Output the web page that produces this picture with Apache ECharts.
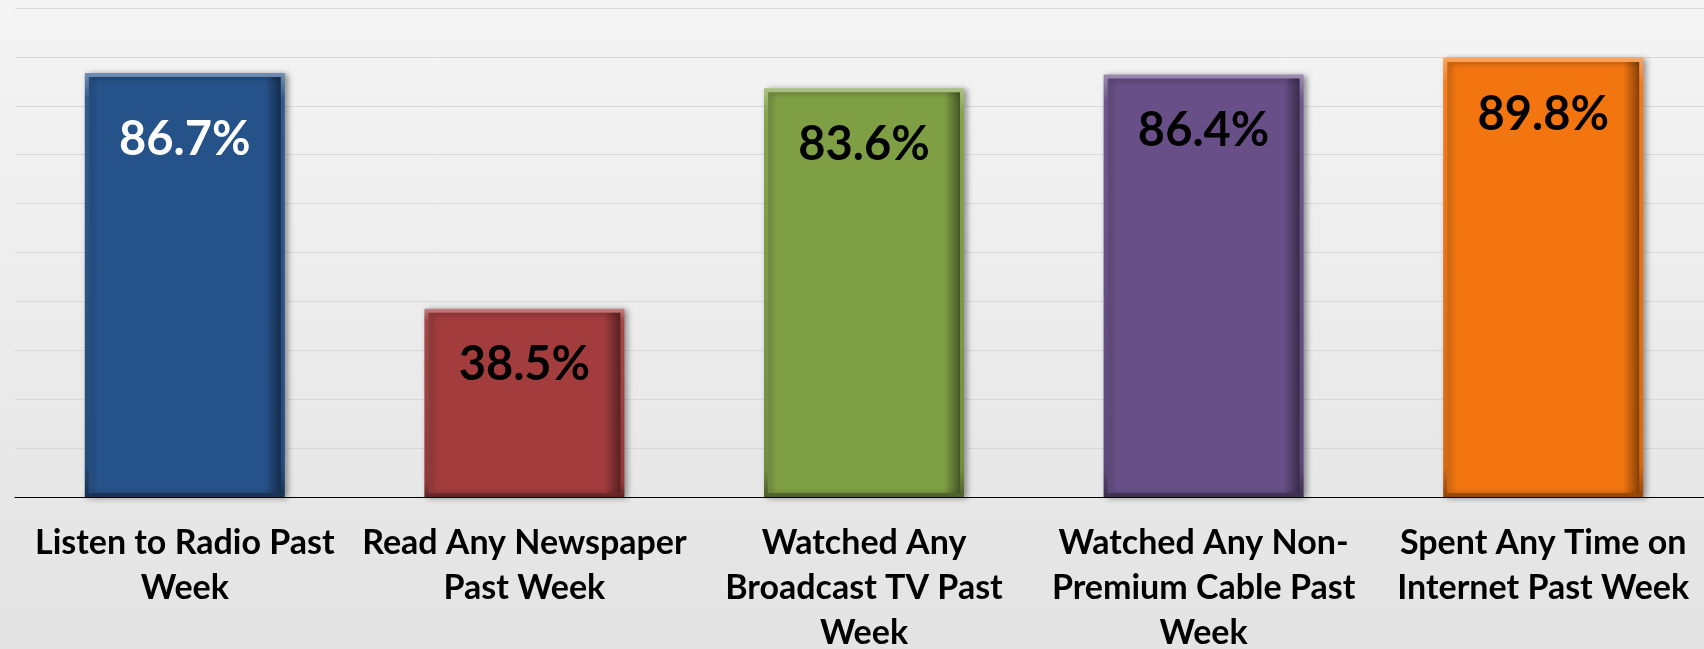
<!DOCTYPE html>
<html>
<head>
<meta charset="UTF-8">
<title>index.html</title>
<style type="text/css">
html, body { margin: 0; padding: 0; }
#main { width: 1704px; height: 649px; }
</style>
</head>
<body>
  <div id="main"></div>
</body>
<script type="text/javascript" src="https://cdn.jsdelivr.net/npm/echarts@6/dist/echarts.min.js"></script>
<script>
  var categories = [ 'Listen to Radio Past\nWeek', 'Read Any Newspaper\nPast Week', 'Watched Any\nBroadcast TV Past\nWeek', 'Watched Any Non-\nPremium Cable Past\nWeek', 'Spent Any Time on\nInternet Past Week' ];
  var values = [ 86.7, 38.5, 83.6, 86.4, 89.8 ];
  var barColors = [ '#26528a', '#a23c3d', '#7f9f45', '#684f87', '#f27510' ];
  var labelColors = [ '#ffffff', '#000000', '#000000', '#000000', '#000000' ];

  // lighten / darken a hex colour
  function shade(hex, amt) {
    var n = parseInt(hex.slice(1), 16);
    var r = (n >> 16) & 255, g = (n >> 8) & 255, b = n & 255;
    function f(c) {
      c = amt > 0 ? c + (255 - c) * amt : c * (1 + amt);
      return Math.round(Math.max(0, Math.min(255, c)));
    }
    return 'rgb(' + f(r) + ',' + f(g) + ',' + f(b) + ')';
  }

  var barData = values.map(function(v, i) {
    var c = barColors[i];
    return {
      value : v,
      itemStyle : {
        color : new echarts.graphic.LinearGradient(0, 0, 1, 0, [
          { offset : 0, color : shade(c, 0.1) },
          { offset : 0.05, color : c },
          { offset : 0.9, color : c },
          { offset : 1, color : shade(c, -0.55) }
        ]),
        borderColor : new echarts.graphic.LinearGradient(0, 0, 0, 1, [
          { offset : 0, color : shade(c, 0.35) },
          { offset : 0.06, color : shade(c, 0.05) },
          { offset : 0.93, color : shade(c, -0.1) },
          { offset : 1, color : shade(c, -0.4) }
        ])
      },
      // the white label on the first bar sits a bit lower in the original
      label : { color : labelColors[i], offset : [ 0, i === 0 ? 10 : 0 ] }
    };
  });

  var myChart = echarts.init(document.getElementById('main'));
  var option = {
    backgroundColor : new echarts.graphic.LinearGradient(0, 0, 0, 1, [
      { offset : 0, color : '#f4f4f4' },
      { offset : 1, color : '#e3e3e3' }
    ]),
    animation : false,
    grid : {
      left : 15,
      right : -9,
      top : 8,
      bottom : 152,
      containLabel : false,
      outerBoundsMode : 'none'
    },
    xAxis : [ {
      type : 'category',
      data : categories,
      axisLine : { lineStyle : { color : '#000000', width : 1.2 } },
      axisTick : { show : false },
      axisLabel : {
        interval : 0,
        margin : 24,
        color : '#000000',
        fontFamily : 'Lato',
        fontWeight : 'bold',
        fontSize : 34,
        lineHeight : 45
      }
    } ],
    yAxis : [ {
      type : 'value',
      min : 0,
      max : 100,
      interval : 10,
      axisLabel : { show : false },
      axisLine : { show : false },
      axisTick : { show : false },
      splitLine : { lineStyle : { color : '#d9d9d9', width : 1 } }
    } ],
    series : [ {
      type : 'bar',
      barWidth : 200,
      data : barData,
      itemStyle : {
        borderWidth : 4,
        shadowColor : 'rgba(0,0,0,0.35)',
        shadowBlur : 6,
        shadowOffsetX : 3,
        shadowOffsetY : 1
      },
      label : {
        show : true,
        position : 'insideTop',
        distance : 33,
        fontFamily : 'Lato',
        fontWeight : 'bold',
        fontSize : 47,
        lineHeight : 47,
        formatter : function(p) {
          return p.value.toFixed(1) + '%';
        }
      }
    } ]
  };
  myChart.setOption(option);
</script>
</html>
